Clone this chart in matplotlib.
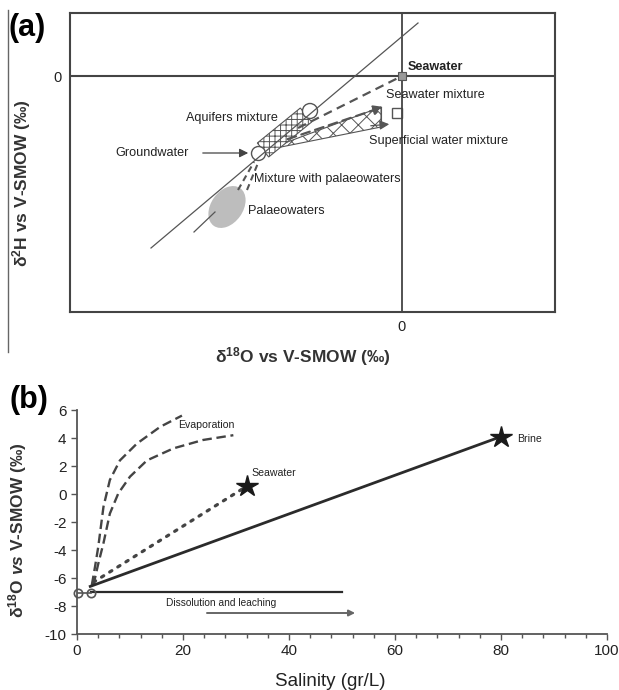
import matplotlib
matplotlib.use('Agg')
import matplotlib.pyplot as plt
from matplotlib.patches import Ellipse, Circle, Polygon, Rectangle
from matplotlib.lines import Line2D
from matplotlib.ticker import MultipleLocator

plt.rcParams['font.family'] = ['Liberation Sans', 'DejaVu Sans']
plt.rcParams['mathtext.fontset'] = 'custom'
plt.rcParams['mathtext.rm'] = 'Liberation Sans:bold'
plt.rcParams['mathtext.it'] = 'Liberation Sans:italic:bold'
plt.rcParams['mathtext.bf'] = 'Liberation Sans:bold'
plt.rcParams['axes.unicode_minus'] = False
plt.rcParams['hatch.color'] = '#666666'
plt.rcParams['hatch.linewidth'] = 0.7

# ---- panel (a): schematic, arbitrary units with origin at (0, 0) ----
gmwl_x = [-251, 16]
gmwl_y = [-172, 53]
palaeo_line_x = [-208, -187]
palaeo_line_y = [-156, -136]
palaeo_center = (-175, -131)
mix_palaeo_a_x = [-164, -148]
mix_palaeo_a_y = [-114, -86]
mix_palaeo_b_x = [-155, -144]
mix_palaeo_b_y = [-114, -87]
groundwater = (-143.5, -77.5)
aquifer_start = (-139, -74)
aquifer_end = (-96, -39)
aquifer_top = (-92, -35)
sea_line_x = [-104, -4]
sea_line_y = [-52, -2]
sea_mix_from = (-117, -64)
sea_mix_to = (-16, -30)
wedge_apex = (-136, -74)
wedge_upper = (-21, -31)
wedge_lower = (-21, -51)
superficial_from = (-34, -50)
superficial_to = (-10, -48)
superficial_box = (-5, -37)
seawater_pt = (0, 0)
gw_arrow_from = (-202, -77)
gw_arrow_to = (-151, -77)

labels_a = ['Groundwater', 'Aquifers mixture', 'Seawater mixture',
            'Superficial water mixture', 'Mixture with palaeowaters', 'Palaeowaters']
labels_a_x = [-287, -216, -16, -33, -148, -154]
labels_a_y = [-77, -42, -19, -65, -103, -135]

# ---- panel (b): d18O vs salinity ----
evap1_x = [2.8, 3.4, 4.0, 5.0, 6.2, 8.1, 11.3, 15.7, 19.8]
evap1_y = [-6.5, -5.2, -3.8, -0.9, 1.0, 2.4, 3.6, 4.8, 5.6]
evap2_x = [3.1, 4.0, 5.0, 6.2, 7.8, 10.0, 13.2, 18.2, 23.8, 29.5]
evap2_y = [-6.5, -5.0, -3.5, -1.4, 0.05, 1.24, 2.4, 3.26, 3.86, 4.2]
seawater_x = [3.1, 32.0]
seawater_y = [-6.3, 0.55]
brine_x = [2.5, 80.0]
brine_y = [-6.6, 4.1]
dissol_x = [2.6, 50.0]
dissol_y = [-7.0, -7.0]
start_x = [0.2, 2.6]
start_y = [-7.05, -7.05]
dissol_arrow_x = [24, 53]
dissol_arrow_y = [-8.5, -8.5]

W, H = 619, 690
fig = plt.figure(figsize=(W / 100, H / 100), dpi=100)

# ================= panel (a) =================
ax = fig.add_axes([70 / W, 1 - 312 / H, 485 / W, 299 / H])
ax.set_xlim(-332, 153)
ax.set_ylim(-236, 63)
for s in ax.spines.values():
    s.set_color('#444444')
    s.set_linewidth(1.5)
ax.set_xticks([0])
ax.set_yticks([0])
ax.tick_params(length=0, labelsize=10.5, colors='#222222', pad=6)
ax.axhline(0, color='#444444', lw=1.5)
ax.axvline(0, color='#444444', lw=1.3)

grey = '#555555'
ax.plot(gmwl_x, gmwl_y, color=grey, lw=0.9)
ax.plot(palaeo_line_x, palaeo_line_y, color=grey, lw=0.9)
ax.add_patch(Ellipse(palaeo_center, 46, 32, angle=55, facecolor='#bdbdbd', edgecolor='none'))
ax.plot(mix_palaeo_a_x, mix_palaeo_a_y, color=grey, lw=1.5, ls=(0, (3, 2)))
ax.plot(mix_palaeo_b_x, mix_palaeo_b_y, color=grey, lw=1.5, ls=(0, (3, 2)))

# superficial water wedge
ax.add_patch(Polygon([wedge_apex, wedge_upper, wedge_lower], closed=True,
                     facecolor='white', edgecolor=grey, lw=0.8, hatch='xx'))
ax.plot([wedge_upper[0], wedge_lower[0]], [wedge_upper[1], wedge_lower[1]], color=grey, lw=0.8)
ax.annotate('', xy=superficial_to, xytext=superficial_from,
            arrowprops=dict(arrowstyle='-|>', color=grey, lw=0.9, mutation_scale=14))
ax.add_patch(Rectangle((superficial_box[0] - 5, superficial_box[1] - 5), 10, 10,
                       facecolor='white', edgecolor=grey, lw=1.0))

# seawater mixing lines
ax.plot(sea_line_x, sea_line_y, color=grey, lw=1.6, ls=(0, (4, 2.5)))
ax.annotate('', xy=sea_mix_to, xytext=sea_mix_from,
            arrowprops=dict(arrowstyle='-|>', color=grey, lw=1.6, ls=(0, (4, 2.5)),
                            mutation_scale=14))
ax.plot(*seawater_pt, marker='s', ms=6, mfc='#999999', mec='#555555', mew=0.8)

# aquifers mixture band
dx = aquifer_end[0] - aquifer_start[0]
dy = aquifer_end[1] - aquifer_start[1]
norm = (dx ** 2 + dy ** 2) ** 0.5
nx, ny = -dy / norm * 9, dx / norm * 9
band = [(aquifer_start[0] + nx, aquifer_start[1] + ny), (aquifer_end[0] + nx, aquifer_end[1] + ny),
        (aquifer_end[0] - nx, aquifer_end[1] - ny), (aquifer_start[0] - nx, aquifer_start[1] - ny)]
ax.add_patch(Polygon(band, closed=True, facecolor='white', edgecolor=grey, lw=0.8, hatch='+++'))
ax.add_patch(Circle(aquifer_top, 7.5, facecolor='white', edgecolor=grey, lw=1.0))
ax.add_patch(Circle(groundwater, 7, facecolor='white', edgecolor=grey, lw=1.0))

ax.annotate('', xy=gw_arrow_to, xytext=gw_arrow_from,
            arrowprops=dict(arrowstyle='-|>', color='#444444', lw=0.9, mutation_scale=13))

for t, x, y in zip(labels_a, labels_a_x, labels_a_y):
    ax.text(x, y, t, fontsize=9.1, color='#222222', va='center', ha='left')
ax.text(6, 9, 'Seawater', fontsize=9.1, color='#222222', va='center', ha='left', fontweight='bold')

fig.text(8 / W, 1 - 28 / H, '(a)', fontsize=22, fontweight='bold', va='center', ha='left')
fig.text(22 / W, 1 - 183 / H, 'δ$^{2}$H vs V-SMOW (‰)', rotation=90, fontsize=12.5,
         fontweight='bold', color='#333333', va='center', ha='center')
fig.text(303 / W, 1 - 357 / H, 'δ$^{18}$O vs V-SMOW (‰)', fontsize=12.5,
         fontweight='bold', color='#333333', va='center', ha='center')
fig.add_artist(Line2D([8 / W, 8 / W], [1 - 10 / H, 1 - 352 / H], color='#666666', lw=1.0))

# ================= panel (b) =================
bx = fig.add_axes([77 / W, 1 - 634 / H, 530 / W, 224 / H])
bx.set_xlim(0, 100)
bx.set_ylim(-10, 6)
for side in ['top', 'right']:
    bx.spines[side].set_visible(False)
for side in ['left', 'bottom']:
    bx.spines[side].set_color('#555555')
    bx.spines[side].set_linewidth(1.3)
bx.xaxis.set_major_locator(MultipleLocator(20))
bx.xaxis.set_minor_locator(MultipleLocator(4))
bx.yaxis.set_major_locator(MultipleLocator(2))
bx.tick_params(axis='both', which='major', length=4, width=1.0, colors='#555555',
               labelcolor='#222222', labelsize=11)
bx.tick_params(axis='x', which='minor', length=3, width=1.0, colors='#555555')

line_c = '#2b2b2b'
bx.plot(evap1_x, evap1_y, color='#444444', lw=1.7, ls=(0, (4, 2)))
bx.plot(evap2_x, evap2_y, color='#444444', lw=1.7, ls=(0, (4, 2)))
bx.plot(seawater_x, seawater_y, color='#444444', lw=2.3, ls=(0, (0.8, 2.2)),
        dash_capstyle='round')
bx.plot(brine_x, brine_y, color=line_c, lw=2.0)
bx.plot(dissol_x, dissol_y, color=line_c, lw=1.6)
bx.plot(start_x, start_y, color='#555555', lw=1.2, marker='o', ms=6, mfc='none',
        mec='#555555', mew=1.2, clip_on=False, zorder=5)
bx.plot(seawater_x[-1], seawater_y[-1], marker='*', ms=16, color='#1a1a1a')
bx.plot(brine_x[-1], brine_y[-1], marker='*', ms=16, color='#1a1a1a')
bx.annotate('', xy=(dissol_arrow_x[1], dissol_arrow_y[1]),
            xytext=(dissol_arrow_x[0], dissol_arrow_y[0]),
            arrowprops=dict(arrowstyle='-|>', color='#666666', lw=1.4, mutation_scale=9))

bx.text(19.1, 4.9, 'Evaporation', fontsize=7.6, color='#222222', va='center')
bx.text(33.0, 1.5, 'Seawater', fontsize=7.6, color='#222222', va='center')
bx.text(83.0, 3.9, 'Brine', fontsize=7.6, color='#222222', va='center')
bx.text(16.8, -7.75, 'Dissolution and leaching', fontsize=7.3, color='#222222', va='center')

fig.text(29 / W, 1 - 400 / H, '(b)', fontsize=22, fontweight='bold', va='center', ha='center')
fig.text(18 / W, 1 - 530 / H, 'δ$^{18}$O $\\mathit{vs}$ V-SMOW (‰)', rotation=90,
         fontsize=12.5, fontweight='bold', color='#333333', va='center', ha='center')
fig.text(330 / W, 1 - 682 / H, 'Salinity (gr/L)', fontsize=13.5, color='#222222',
         va='center', ha='center')

fig.savefig('out.png', dpi=100)
